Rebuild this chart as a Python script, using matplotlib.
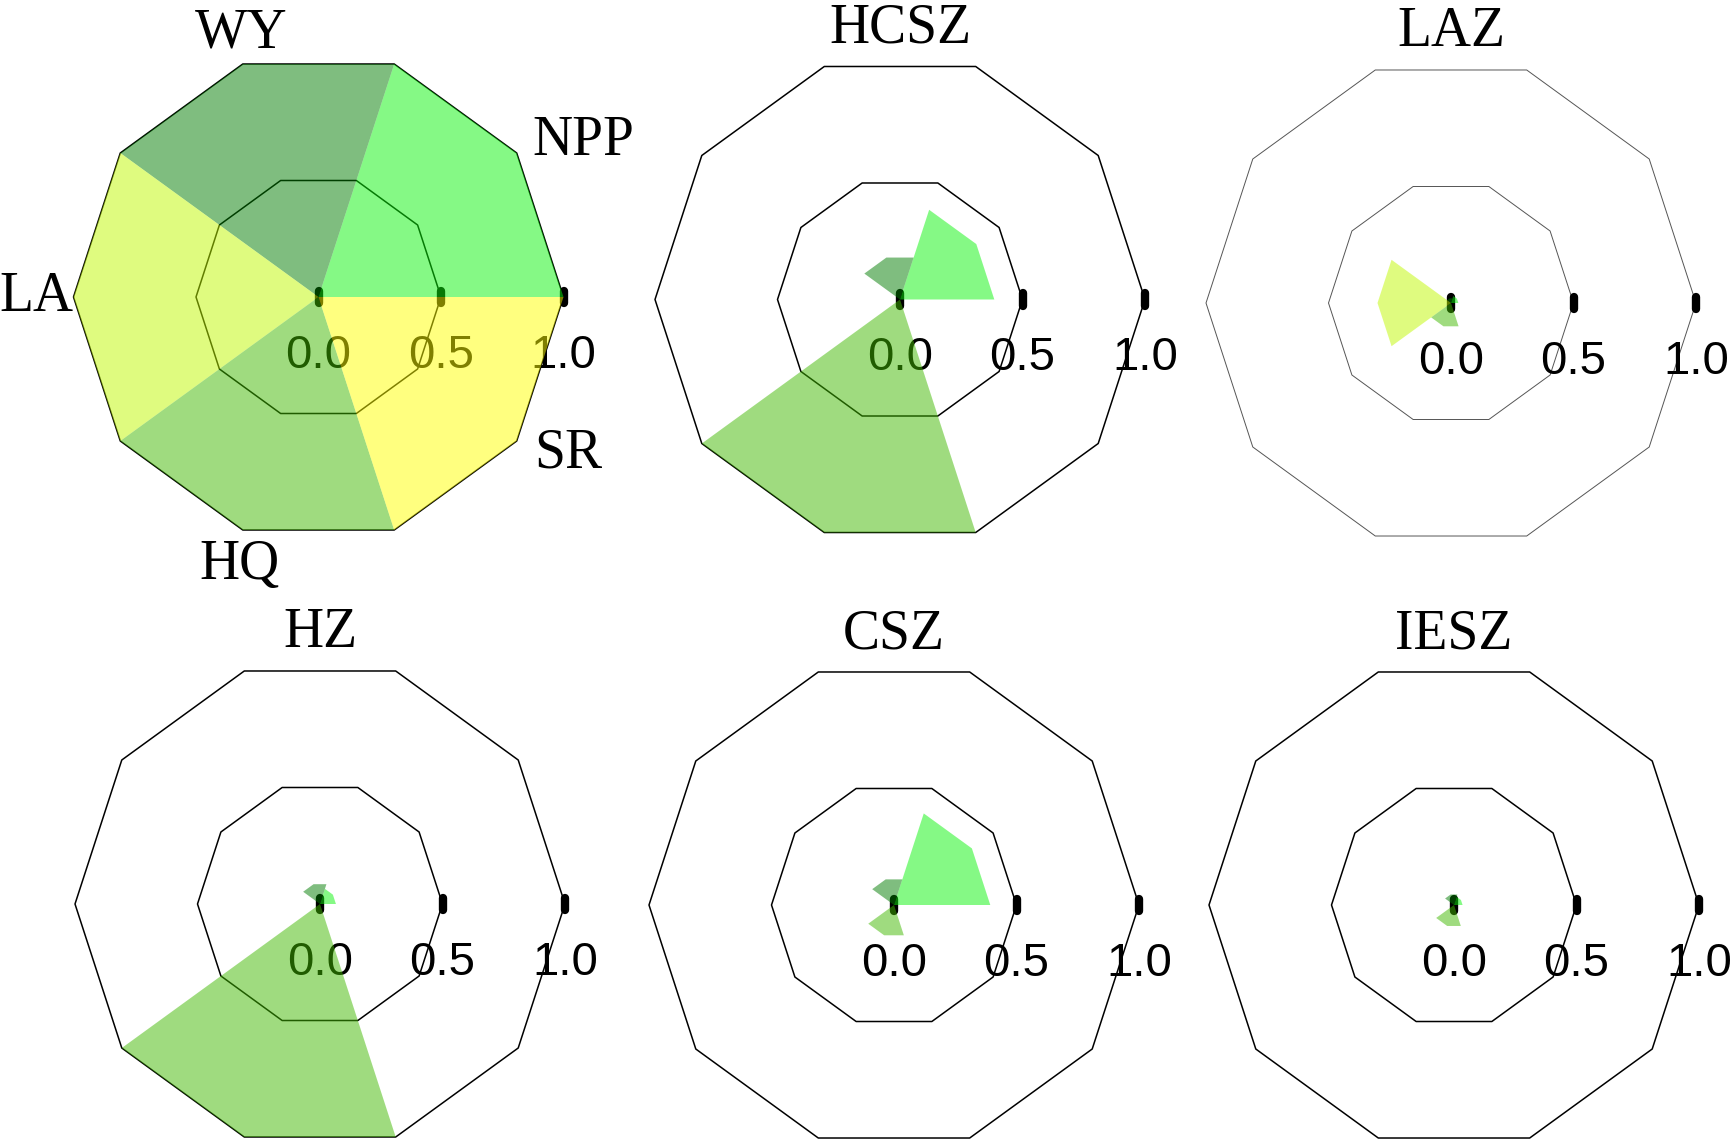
import numpy as np
import matplotlib
matplotlib.use("Agg")
import matplotlib.pyplot as plt
from matplotlib.patches import Polygon

# data
indicators = ["NPP", "WY", "LA", "HQ", "SR"]
zones = ["", "HCSZ", "LAZ", "HZ", "CSZ", "IESZ"]
all_vals = [1.0, 1.0, 1.0, 1.0, 1.0]
hcsz_vals = [0.385, 0.18, 0.0, 1.0, 0.0]
laz_vals = [0.03, 0.02, 0.30, 0.10, 0.0]
hz_vals = [0.065, 0.085, 0.0, 1.0, 0.0]
csz_vals = [0.393, 0.11, 0.0, 0.13, 0.0]
iesz_vals = [0.035, 0.045, 0.0, 0.09, 0.0]
panel_vals = [all_vals, hcsz_vals, laz_vals, hz_vals, csz_vals, iesz_vals]
tick_vals = [0.0, 0.5, 1.0]
tick_labels = ["0.0", "0.5", "1.0"]

colors = ["#0df50d", "#017d01", "#c1f901", "#41b901", "#ffff01"]

W, H = 1732, 1143
R = 245.0
# panel centres in pixels (from top-left)
centres = [(318.5, 297), (900, 299.5), (1451, 303), (320, 904), (894, 905), (1454, 905)]
label_r = [1.08, 1.02, 1.0, 1.04, 1.09]

fig = plt.figure(figsize=(W / 100, H / 100), dpi=100)
fig.patch.set_facecolor("white")

lim = 1.4
ang = np.deg2rad(np.arange(0, 361, 36))


def decagon(ax, r, color, lw):
    ax.plot(r * np.cos(ang), r * np.sin(ang), color=color, lw=lw, zorder=1)


for k, vals in enumerate(panel_vals):
    cx, cy = centres[k]
    hs = lim * R
    ax = fig.add_axes([(cx - hs) / W, (H - cy - hs) / H, 2 * hs / W, 2 * hs / H])
    ax.set_xlim(-lim, lim)
    ax.set_ylim(-lim, lim)
    ax.set_aspect("equal")
    ax.axis("off")

    gcol = "#555555" if zones[k] == "LAZ" else "black"
    glw = 0.7 if zones[k] == "LAZ" else 1.1
    decagon(ax, 1.0, gcol, glw)
    decagon(ax, 0.5, gcol, glw)

    for t, tl in zip(tick_vals, tick_labels):
        ax.plot([t, t], [-0.025, 0.025], color="black", lw=6,
                solid_capstyle="round", zorder=1)
        ax.text(t, -0.24, tl, ha="center", va="center", fontsize=34,
                family=["Liberation Sans", "DejaVu Sans"], zorder=1)

    for i, v in enumerate(vals):
        if v <= 0:
            continue
        a = np.deg2rad([72 * i, 72 * i + 36, 72 * i + 72])
        pts = [(0, 0)] + [(v * np.cos(x), v * np.sin(x)) for x in a]
        ax.add_patch(Polygon(pts, closed=True, facecolor=colors[i],
                             alpha=0.5, edgecolor="none", zorder=2))

    if k == 0:
        for i, name in enumerate(indicators):
            m = np.deg2rad(72 * i + 36)
            c, s = np.cos(m), np.sin(m)
            ha = "left" if c > 0.5 else ("right" if c < -0.5 else "center")
            va = "bottom" if s > 0.7 else ("top" if s < -0.7 else "center")
            ax.text(label_r[i] * c, label_r[i] * s, name, ha=ha, va=va,
                    fontsize=40, family=["Liberation Serif", "DejaVu Serif"],
                    zorder=3)
    else:
        ax.text(0, 1.105, zones[k], ha="center", va="center", fontsize=40,
                family=["Liberation Serif", "DejaVu Serif"])

fig.savefig("out.png", dpi=100, facecolor="white")
